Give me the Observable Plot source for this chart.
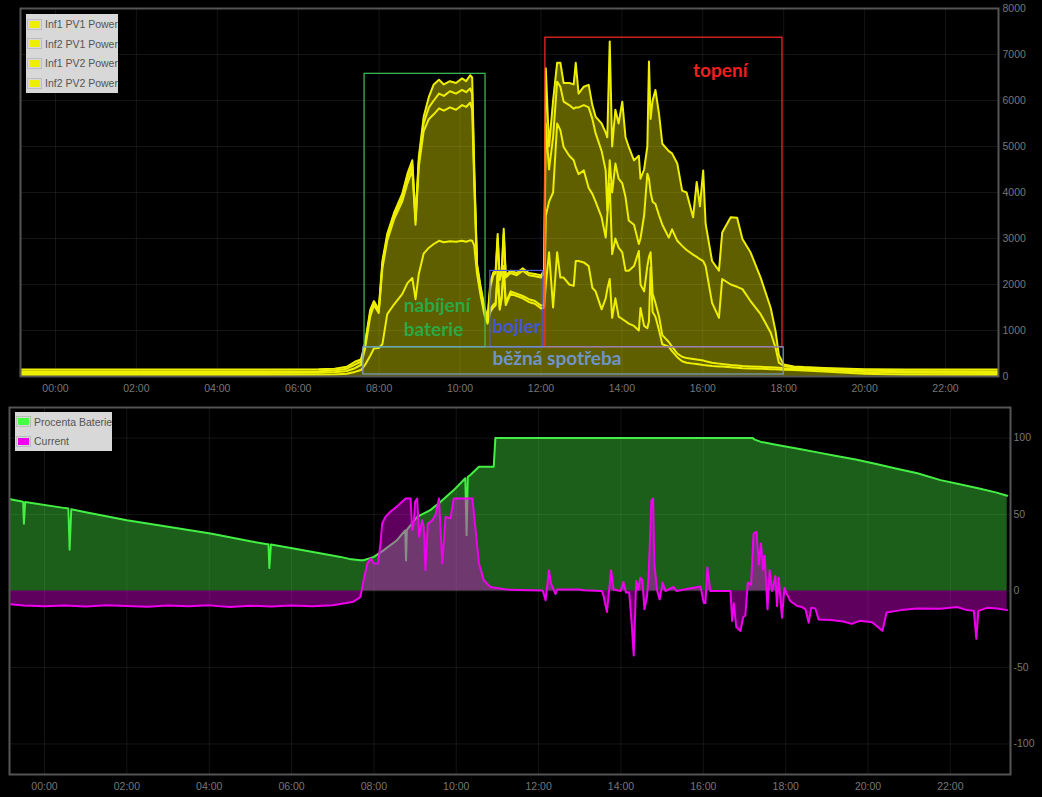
<!DOCTYPE html>
<html><head><meta charset="utf-8">
<script src="https://cdn.jsdelivr.net/npm/d3@7"></script>
<script src="https://cdn.jsdelivr.net/npm/@observablehq/plot@0.6"></script>
<style>
body{margin:0;background:#000;}
#wrap{position:relative;width:1042px;height:797px;background:#000;overflow:hidden;font-family:"Liberation Sans",Arial,sans-serif;}
#top,#bot{position:absolute;left:0;}
#top{top:0}#bot{top:400px}
.legend{position:absolute;background:#d8d8d8;font-size:10.5px;color:#555;}
.legend .row{position:absolute;left:1px;height:14px;display:flex;align-items:center;white-space:nowrap;}
.sw{width:11px;height:7px;border:1px solid #bcbcbc;padding:1px;margin-right:3px;background:#d8d8d8}
.sw i{display:block;width:100%;height:100%}
</style></head>
<body><div id="wrap"><div id="top"></div><div id="bot"></div></div>
<script>
// ---------- TOP CHART DATA (stacked PV power, W) ----------
const pvSeries = ["Inf1 PV1 Power","Inf2 PV1 Power","Inf1 PV2 Power","Inf2 PV2 Power"];
const pvT = [
 -0.86,1,3,5,6.5,6.9,7.2,7.4,7.55,7.65,
 7.78,7.87,7.99,8.08,8.2,8.37,8.57,8.7,8.82,8.9,
 8.98,9.1,9.23,9.35,9.48,9.6,9.75,9.9,10.05,10.15,
 10.25,10.3,10.35,10.42,10.5,10.6,10.68,10.75,10.82,10.88,
 10.93,10.98,11.03,11.08,11.13,11.25,11.4,11.55,11.7,11.85,
 12.0,12.08,12.12,12.2,12.3,12.4,12.48,12.56,12.7,12.81,
 12.86,12.93,13.06,13.18,13.27,13.35,13.5,13.6,13.64,13.7,
 13.76,13.84,13.92,14.01,14.09,14.17,14.3,14.42,14.46,14.55,
 14.63,14.67,14.71,14.76,14.83,14.92,15.0,15.16,15.24,15.37,
 15.49,15.6,15.76,15.85,15.93,16.01,16.07,16.23,16.4,16.48,
 16.69,16.85,16.98,17.18,17.43,17.68,17.8,17.88,18.0,18.25,
 18.5,19.0,20.0,21.0,23.3];
const inf1pv1 = [
 35,35,35,35,40,45,60,100,140,250,
 450,610,620,700,1355,1570,1790,2030,2140,1680,
 2230,2670,2800,2880,2950,2920,2940,2930,2950,2930,
 2960,2950,2850,2230,1800,1350,1150,1400,1500,1550,
 2200,1450,1700,2300,1550,1800,1750,1700,1620,1580,
 1480,1500,2000,2700,1500,2700,2150,2150,2000,1970,
 2510,2510,2480,2400,1930,1850,1460,1700,1900,2120,
 1275,1700,1300,1250,1200,1150,1100,1000,1490,1100,
 1050,1200,2370,1400,1300,1000,700,650,550,420,
 330,300,280,270,260,250,245,230,220,215,
 200,190,180,175,170,160,155,150,145,140,
 130,110,60,40,35];
const inf2pv1 = [
 40,40,40,40,40,45,60,80,110,350,
 850,940,760,1650,1595,1850,2010,2170,2340,1620,
 2330,2660,2800,2820,2880,2860,2910,2870,2950,2930,
 2990,2850,1350,100,100,70,50,60,60,50,
 100,50,50,100,50,50,50,50,60,60,
 60,60,1500,1100,2500,2800,3205,2840,2800,2730,
 2040,1890,2000,1700,2040,1950,2000,1320,1600,2070,
 1385,1300,1500,1450,1100,1150,1300,1730,510,750,
 1350,1400,330,400,300,300,200,100,100,80,
 100,100,100,100,100,100,85,70,60,55,
 50,50,50,45,40,40,40,40,35,30,
 30,30,40,40,40];
const inf1pv2 = [
 35,35,35,35,35,40,50,80,70,80,
 80,50,40,80,80,70,90,110,120,80,
 110,170,250,300,320,320,350,350,330,320,
 310,350,200,70,50,50,30,490,640,650,
 700,600,500,700,550,400,400,550,520,540,
 610,690,2000,700,1200,910,945,985,1100,1120,
 1300,1450,1420,1750,1630,1490,1440,1460,110,510,
 1340,1630,1500,1500,1600,1090,900,150,1000,1650,
 2010,1700,1300,2000,2150,2200,2400,2270,2550,2450,
 2410,2350,2270,2230,2190,2160,2070,1300,995,1850,
 1750,1710,1670,1420,1145,750,425,110,50,30,
 25,25,30,35,35];
const inf2pv2 = [
 40,40,40,40,40,40,40,60,50,40,
 70,40,40,80,70,70,80,100,100,70,
 100,140,230,350,300,250,220,230,250,240,
 290,350,200,50,50,50,50,100,60,50,
 100,50,50,110,50,50,50,50,50,50,
 50,50,1200,500,800,410,520,405,480,530,
 970,300,400,490,300,360,600,820,1590,2585,
 1000,1170,1200,1775,1300,1600,1400,1920,1300,1000,
 590,2550,1600,2200,2480,2200,1760,1880,1650,1680,
 1200,1250,810,1630,1150,1970,920,910,1025,1010,
 1460,1500,1090,1060,795,540,360,170,30,20,
 20,20,30,35,40];
const yTicksTop = [0,1000,2000,3000,4000,5000,6000,7000,8000];

// annotation boxes (hours, W)
const boxStart = [7.64, 10.75, 12.11, 7.61];
const boxEnd   = [10.63, 12.06, 17.97, 18.0];
const boxLow   = [634, 634, 634, 44];
const boxHigh  = [6580, 2295, 7366, 634];
const boxColor = ["#3cc456", "#4d5ae0", "#ff2a2a", "#7a9ccc"];
const labelText = ["nabíjení", "baterie", "bojler", "topení", "běžná spotřeba"];
const labelX = [8.61, 8.61, 10.8, 15.76, 10.8];
const labelY = [1530, 1005, 1077, 6650, 387];
const labelColor = ["#2aa845", "#2aa845", "#4655d4", "#ee2020", "#6f94c8"];

// ---------- BOTTOM CHART DATA ----------
const battT = [-0.83,-0.55,-0.52,-0.5,-0.47,0.5,0.58,0.61,0.65,1.0,
 2.0,3.0,4.03,5.0,5.41,5.44,5.46,5.5,6.05,7.19,
 7.4,7.67,7.75,8.0,8.24,8.56,8.76,8.78,8.8,9.05,
 9.37,9.62,9.94,10.22,10.25,10.28,10.35,10.55,10.91,10.95,
 17.2,17.25,17.4,17.7,18.0,18.4,18.8,19.2,19.7,20.2,
 20.7,21.2,21.76,22.2,22.7,23.1,23.38];
const battV = [60,58.5,58.3,44,58.2,54.2,54,27,53.5,51.5,
 46.3,42,37.6,32.5,30.6,30.5,15,30.4,27.8,22.3,
 21,20.1,20.1,22.3,26.7,33.2,39.7,20,40,48.5,
 52.9,58.3,66,73.7,36.5,74.5,76,81.3,81.3,100,
 100,99,97.5,96,94.5,92.5,90.5,88.5,86,83,
 80,77,72.5,70,67,64.5,62.3];
const curT = [-0.83,-0.5,0,0.5,1,1.5,2,2.5,3,3.5,
 4,4.5,5,5.5,6,6.5,7.0,7.3,7.5,7.67,
 7.75,7.84,7.92,8.0,8.1,8.16,8.2,8.28,8.4,8.6,
 8.77,8.89,8.93,8.97,9.0,9.05,9.1,9.17,9.21,9.25,
 9.31,9.42,9.5,9.58,9.66,9.74,9.86,9.94,10.39,10.47,
 10.55,10.67,10.83,11.24,12.1,12.17,12.25,12.3,12.33,12.41,
 12.45,12.98,13.1,13.54,13.58,13.66,13.76,13.82,13.99,14.06,
 14.12,14.2,14.26,14.31,14.37,14.42,14.47,14.52,14.57,14.63,
 14.67,14.74,14.78,14.81,14.88,14.94,15.01,15.08,15.28,15.35,
 15.93,16.01,16.05,16.1,16.17,16.66,16.7,16.74,16.8,16.9,
 16.97,17.02,17.08,17.16,17.22,17.29,17.35,17.4,17.45,17.49,
 17.56,17.61,17.67,17.75,17.79,17.83,17.91,17.97,18.03,18.11,
 18.28,18.4,18.48,18.56,18.62,18.72,18.8,19.1,19.4,19.6,
 19.8,20.1,20.35,20.45,20.8,21.2,21.76,22.16,22.4,22.57,
 22.63,22.68,22.89,23.13,23.38];
const curV = [-8.7,-9.5,-10,-9.5,-10.2,-9.3,-9.8,-10.3,-9.5,-10,
 -9.4,-10.5,-9.6,-10.2,-9.5,-10,-9.3,-8,-7,-4,
 7,18,21.2,18,18,31,44,48.5,51.8,56.2,
 60.5,60.5,39.8,45,58.3,60.5,35.4,46.3,42,13.6,
 44,46.3,50,60.5,18,48.5,47.5,60.5,60.5,39.8,
 18,7,2.6,0.9,0.3,-6,13.6,5,3,-2,
 1,1,0.5,0,-3.6,-13.8,13.6,1,0,5.9,
 -1,-1,-21.4,-42.1,6.5,1,8.7,7,-12,-4,
 8.7,59.4,60.5,17.5,0,-5.5,5.5,0,2.6,0,
 3,-7.7,-8,15.3,0,0,-19.6,-8,-23.6,-26.2,
 -17,-16,5.5,4,37.6,38.7,17.5,31,14,23,
 -12,13.6,0,9.8,-10,8.7,-17.5,2,-2,-6.5,
 -9.8,-10.5,-12,-20.7,-11,-11.4,-18.6,-19,-20,-21.5,
 -19.5,-20.5,-26,-14,-12.5,-11.5,-11.6,-10.5,-12.5,-13,
 -31.2,-13,-11,-11.5,-12.5];
const yTicksBot = [-100,-50,0,50,100];
const xTicks = [0,2,4,6,8,10,12,14,16,18,20,22];
const fmt = h => String(h).padStart(2,"0") + ":00";
const numFmt = d => String(d);

// ---------- build tables ----------
const pvValues = [inf1pv1, inf2pv1, inf1pv2, inf2pv2];
const pvTable = [];
pvSeries.forEach((name,k) => pvT.forEach((t,i) => pvTable.push({series:name, t, v: pvValues[k][i]})));
const battTable = battT.map((t,i) => ({t, v: battV[i]}));
const curTable = curT.map((t,i) => ({t, v: curV[i]}));
const boxes = boxStart.map((s,i) => ({x1:s, x2:boxEnd[i], y1:boxLow[i], y2:boxHigh[i], c:boxColor[i]}));
const labels = labelText.map((s,i) => ({text:s, x:labelX[i], y:labelY[i], c:labelColor[i]}));

const style = {background:"#000", color:"#777", fontFamily:"'Liberation Sans', Arial, sans-serif", fontSize:"10.5px", overflow:"visible"};
const grid = {stroke:"#fff", strokeOpacity:0.08, strokeWidth:1};

const topPlot = Plot.plot({
  width:1042, height:400, marginLeft:20, marginRight:44, marginTop:8, marginBottom:24,
  style,
  x:{domain:[-0.865,23.31], label:null},
  y:{domain:[0,8000], label:null},
  marks:[
    Plot.gridX(xTicks, grid),
    Plot.gridY(yTicksTop, grid),
    Plot.areaY(pvTable, {x:"t", y:"v", z:"series", fill:"#eeee00", fillOpacity:0.4}),
    Plot.lineY(pvTable, Plot.stackY2({x:"t", y:"v", z:"series", stroke:"#eeee00", strokeWidth:2})),
    ...boxes.map(b => Plot.rect([b], {x1:"x1", x2:"x2", y1:"y1", y2:"y2", stroke:b.c, fill:"none", strokeWidth:1.2})),
    ...labels.map(l => Plot.text([l], {x:"x", y:"y", text:"text", fill:l.c, textAnchor:"start", fontWeight:"bold", fontSize:19, fontFamily:"Lato"})),
    Plot.axisX(xTicks, {tickSize:0, tickPadding:8, tickFormat:fmt, label:null}),
    Plot.axisY(yTicksTop, {anchor:"right", tickSize:0, tickPadding:4, tickFormat:numFmt, label:null}),
    Plot.frame({stroke:"#555", strokeWidth:2})
  ]
});
document.getElementById("top").appendChild(topPlot);

const botPlot = Plot.plot({
  width:1042, height:397, marginLeft:9, marginRight:32, marginTop:7, marginBottom:23,
  style,
  x:{domain:[-0.85,23.46], label:null},
  y:{domain:[-120,120], label:null},
  marks:[
    Plot.gridX(xTicks, grid),
    Plot.gridY(yTicksBot, grid),
    Plot.areaY(battTable, {x:"t", y1:0, y2:"v", fill:"#44ee44", fillOpacity:0.4}),
    Plot.lineY(battTable, {x:"t", y:"v", stroke:"#44ee44", strokeWidth:2}),
    Plot.areaY(curTable, {x:"t", y1:0, y2:"v", fill:"#ee00ee", fillOpacity:0.4}),
    Plot.lineY(curTable, {x:"t", y:"v", stroke:"#ee00ee", strokeWidth:2}),
    Plot.axisX(xTicks, {tickSize:0, tickPadding:8, tickFormat:fmt, label:null}),
    Plot.axisY(yTicksBot, {anchor:"right", tickSize:0, tickPadding:3, tickFormat:numFmt, label:null}),
    Plot.frame({stroke:"#555", strokeWidth:2})
  ]
});
document.getElementById("bot").appendChild(botPlot);

// ---------- legends ----------
function legend(items, colors, left, top, w, h, rowTops){
  const d = document.createElement("div");
  d.className = "legend";
  Object.assign(d.style, {left:left+"px", top:top+"px", width:w+"px", height:h+"px"});
  items.forEach((name,i) => {
    const r = document.createElement("div");
    r.className = "row";
    r.style.top = rowTops[i]+"px";
    r.innerHTML = `<span class="sw"><i style="background:${colors[i]}"></i></span><span>${name}</span>`;
    d.appendChild(r);
  });
  document.getElementById("wrap").appendChild(d);
}
legend(pvSeries, ["#eeee00","#eeee00","#eeee00","#eeee00"], 26, 14, 92, 79, [3.3,22.7,42.3,62.3]);
legend(["Procenta Baterie","Current"], ["#44ff44","#ee00ee"], 15, 412, 97, 39, [2.7,22]);
</script>
</body></html>
